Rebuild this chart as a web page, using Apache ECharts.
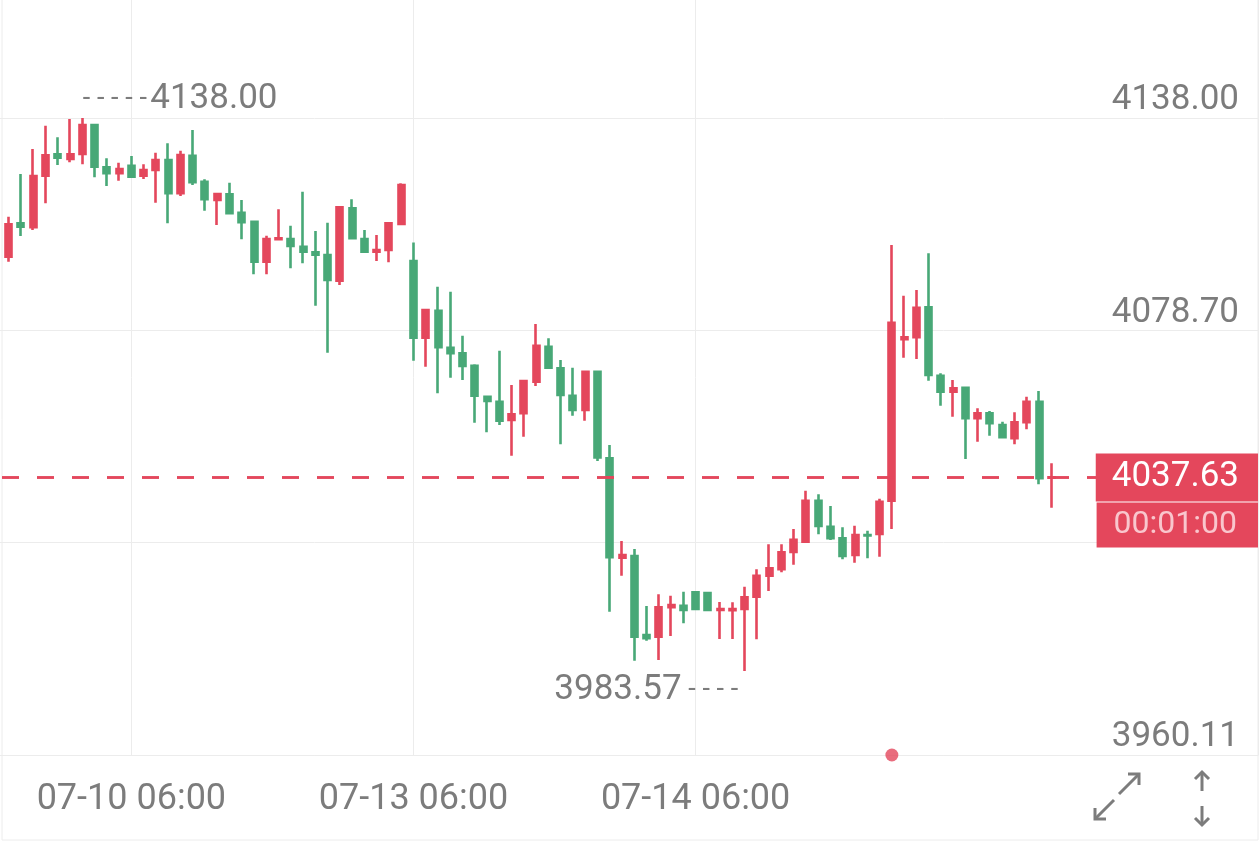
<!DOCTYPE html>
<html>
<head>
<meta charset="utf-8">
<script src="https://cdn.jsdelivr.net/npm/echarts@6/dist/echarts.min.js"></script>
<style>
  html, body { margin: 0; padding: 0; background: #fff; }
  #chart { width: 1260px; height: 844px; }
</style>
</head>
<body>
<div id="chart"></div>
<script>
// 每根K线: [open, close, low, high]
const ohlc = [
  [4099.27, 4108.31, 4097.87, 4110.44],
  [4108.59, 4107.64, 4105.05, 4122.36],
  [4107.48, 4121.80, 4106.72, 4129.34],
  [4121.89, 4127.58, 4114.18, 4135.85],
  [4127.86, 4126.91, 4124.88, 4132.61],
  [4126.55, 4127.86, 4125.63, 4137.72],
  [4127.95, 4136.05, 4125.07, 4138.00],
  [4136.05, 4124.40, 4121.44, 4136.24],
  [4124.23, 4122.56, 4119.01, 4126.75],
  [4122.56, 4123.76, 4120.49, 4125.52],
  [4124.68, 4121.61, 4121.44, 4127.39],
  [4121.89, 4123.48, 4120.97, 4125.07],
  [4123.48, 4126.27, 4114.35, 4128.31],
  [4126.27, 4116.97, 4108.59, 4130.94],
  [4116.97, 4127.67, 4116.22, 4128.87],
  [4127.47, 4120.04, 4119.29, 4134.65],
  [4120.21, 4115.30, 4112.11, 4120.88],
  [4115.10, 4116.78, 4108.12, 4116.97],
  [4116.69, 4111.39, 4111.11, 4119.93],
  [4111.55, 4108.87, 4104.13, 4115.10],
  [4109.04, 4097.87, 4094.35, 4109.32],
  [4097.87, 4104.21, 4094.35, 4105.13],
  [4104.13, 4104.41, 4104.13, 4112.50],
  [4104.21, 4102.26, 4096.03, 4107.92],
  [4102.06, 4100.66, 4097.42, 4117.42],
  [4100.50, 4099.83, 4085.58, 4106.44],
  [4099.74, 4092.76, 4072.46, 4108.76],
  [4092.57, 4113.06, 4091.36, 4113.23],
  [4112.78, 4104.41, 4104.41, 4115.30],
  [4104.21, 4100.66, 4100.38, 4106.72],
  [4100.66, 4101.14, 4098.07, 4105.33],
  [4101.14, 4108.59, 4097.70, 4108.87],
  [4108.40, 4119.29, 4108.40, 4119.77],
  [4098.07, 4076.65, 4070.22, 4103.23],
  [4076.65, 4084.38, 4068.55, 4084.58],
  [4084.19, 4073.97, 4061.12, 4090.89],
  [4073.85, 4072.29, 4065.48, 4089.49],
  [4072.29, 4068.74, 4064.83, 4077.21],
  [4068.83, 4060.45, 4052.91, 4069.22],
  [4060.17, 4058.97, 4050.23, 4060.37],
  [4058.77, 4053.47, 4052.27, 4073.02],
  [4053.66, 4055.26, 4043.69, 4063.44],
  [4055.54, 4064.56, 4049.00, 4064.83],
  [4064.36, 4074.41, 4063.16, 4080.47],
  [4074.13, 4068.27, 4068.10, 4076.48],
  [4068.10, 4060.65, 4046.88, 4070.42],
  [4060.45, 4056.46, 4054.87, 4068.27],
  [4056.46, 4067.15, 4053.47, 4067.26],
  [4067.15, 4043.19, 4042.21, 4067.35],
  [4042.97, 4015.32, 4000.13, 4046.68],
  [4015.21, 4015.96, 4010.18, 4019.87],
  [4015.68, 3993.15, 3986.45, 4017.64],
  [3993.62, 3992.70, 3992.03, 4001.72],
  [3993.15, 4001.36, 3986.64, 4004.99],
  [4001.36, 4002.00, 3993.34, 4004.60],
  [4001.81, 4000.60, 3996.89, 4005.72],
  [4005.55, 4000.88, 4000.74, 4005.63],
  [4005.35, 4000.60, 4000.46, 4005.49],
  [4000.60, 4000.88, 3992.51, 4002.84],
  [4000.55, 4000.88, 3992.51, 4002.75],
  [4000.88, 4004.15, 3983.57, 4007.11],
  [4004.32, 4010.18, 3992.42, 4011.97],
  [4010.18, 4012.25, 4005.91, 4018.95],
  [4011.97, 4016.72, 4011.13, 4018.95],
  [4016.80, 4020.24, 4013.26, 4023.22],
  [4019.68, 4031.13, 4019.68, 4033.92],
  [4031.13, 4024.06, 4021.74, 4032.92],
  [4023.87, 4020.63, 4020.15, 4029.65],
  [4020.63, 4015.68, 4014.76, 4023.70],
  [4015.96, 4021.55, 4013.81, 4024.15],
  [4021.55, 4021.45, 4015.04, 4022.75],
  [4021.83, 4030.85, 4015.49, 4031.69],
  [4031.13, 4080.84, 4023.22, 4102.53],
  [4076.20, 4076.76, 4071.06, 4088.38],
  [4076.76, 4085.02, 4070.70, 4089.97],
  [4085.14, 4066.23, 4064.64, 4100.22],
  [4066.03, 4061.57, 4057.66, 4066.71],
  [4061.57, 4062.52, 4054.59, 4064.83],
  [4062.68, 4054.14, 4042.77, 4062.96],
  [4054.14, 4055.54, 4047.60, 4056.93],
  [4055.54, 4052.74, 4049.28, 4056.18],
  [4052.27, 4048.83, 4048.55, 4053.19],
  [4048.55, 4053.02, 4046.88, 4055.81],
  [4053.02, 4058.77, 4051.07, 4060.17],
  [4058.77, 4037.38, 4035.71, 4061.76],
  [4037.55, 4037.63, 4029.17, 4041.57]
]
// x轴刻度(K线序号)和文字
const xTickIdx = [10, 33, 56]
const xTickLabels = ['07-10 06:00', '07-13 06:00', '07-14 06:00']
// y轴刻度
const yTicks = [3960.11, 4019.40, 4078.70, 4138.00]
const yMin = 3960.11
const yMax = 4170.95
const xMin = -0.71
const xMax = 101.85
const lastPrice = 4037.63
const countdown = '00:01:00'
// 事件点(红点)所在K线
const eventIdx = [72]

const UP = '#e4475c'
const DOWN = '#48a877'
const GRAY = '#7c7c7c'
const GRID = '#ececec'
const FONT = 'Roboto, "Noto Sans", sans-serif'

const candles = ohlc.map((d, i) => [i, d[0], d[1], d[2], d[3]])

let maxIdx = 0
let minIdx = 0
ohlc.forEach((d, i) => {
  if (d[3] > ohlc[maxIdx][3]) maxIdx = i
  if (d[2] < ohlc[minIdx][2]) minIdx = i
})
const maxVal = ohlc[maxIdx][3]
const minVal = ohlc[minIdx][2]

const markRich = {
  d: { fontSize: 27, color: GRAY, fontFamily: FONT, lineHeight: 40, verticalAlign: 'middle' },
  v: { fontSize: 35, color: GRAY, fontFamily: FONT, lineHeight: 40, verticalAlign: 'middle' }
}

const option = {
  animation: false,
  backgroundColor: '#fff',
  grid: { left: 0, right: 2, top: 0, bottom: 89 },
  xAxis: {
    type: 'value',
    min: xMin,
    max: xMax,
    axisLine: { show: true, onZero: false, lineStyle: { color: GRID, width: 1 } },
    axisTick: { show: false, customValues: xTickIdx },
    axisLabel: {
      customValues: xTickIdx,
      margin: 27,
      color: GRAY,
      fontSize: 36,
      fontFamily: FONT,
      formatter: function (v) {
        const k = xTickIdx.indexOf(Math.round(v))
        return k >= 0 ? xTickLabels[k] : ''
      }
    },
    splitLine: { show: true, lineStyle: { color: GRID, width: 1 } }
  },
  yAxis: {
    type: 'value',
    position: 'right',
    min: yMin,
    max: yMax,
    axisLine: { show: true, onZero: false, lineStyle: { color: GRID, width: 1 } },
    axisTick: { show: false, customValues: yTicks },
    axisLabel: {
      customValues: yTicks,
      inside: true,
      margin: 19,
      verticalAlign: 'bottom',
      color: GRAY,
      fontSize: 35,
      fontFamily: FONT,
      formatter: function (v) { return v.toFixed(2) }
    },
    splitLine: { show: true, lineStyle: { color: GRID, width: 1 } }
  },
  series: [
    {
      type: 'candlestick',
      data: candles,
      encode: { x: 0, y: [1, 2, 3, 4] },
      barWidth: 6.5,
      itemStyle: {
        color: UP,
        color0: DOWN,
        borderColor: UP,
        borderColor0: DOWN,
        borderWidth: 2.6
      },
      markPoint: {
        silent: true,
        symbol: 'circle',
        symbolSize: 1,
        itemStyle: { color: 'rgba(0,0,0,0)' },
        data: [
          {
            coord: [maxIdx, maxVal],
            label: {
              show: true,
              position: 'right',
              distance: 0,
              offset: [0, -19],
              formatter: '{d|- - - - -} {v|' + maxVal.toFixed(2) + '}',
              rich: markRich
            }
          },
          {
            coord: [minIdx, minVal],
            label: {
              show: true,
              position: 'left',
              distance: 6,
              offset: [0, 19],
              formatter: '{v|' + minVal.toFixed(2) + '}  {d|- - - -}',
              rich: markRich
            }
          }
        ]
      },
      markLine: {
        silent: true,
        symbol: ['none', 'none'],
        lineStyle: { color: UP, width: 2.5, type: [17, 18], dashOffset: -2 },
        data: [
          {
            yAxis: lastPrice,
            label: {
              show: true,
              position: 'insideEnd',
              distance: [0, 0],
              formatter: lastPrice.toFixed(2),
              color: '#fff',
              fontSize: 35,
              fontFamily: FONT,
              lineHeight: 48,
              backgroundColor: UP,
              padding: [0, 19, 0, 16]
            }
          },
          {
            yAxis: lastPrice,
            label: {
              show: true,
              opacity: 1,
              position: 'insideEndBottom',
              distance: [0, 25],
              formatter: countdown,
              color: '#f9c6cd',
              fontSize: 32,
              fontFamily: FONT,
              lineHeight: 45,
              backgroundColor: UP,
              padding: [0, 21, 0, 17]
            }
          }
        ]
      }
    },
    {
      type: 'scatter',
      data: eventIdx.map(i => [i, yMin]),
      symbolSize: 13,
      clip: false,
      silent: true,
      z: 5,
      itemStyle: { color: UP }
    }
  ],
  graphic: [
    {
      type: 'rect',
      shape: { x: 2, y: -2, width: 1256, height: 842 },
      style: { fill: 'none', stroke: GRID, lineWidth: 1 },
      silent: true
    },
    {
      type: 'group',
      silent: true,
      children: [
        { type: 'line', shape: { x1: 1119, y1: 794, x2: 1139, y2: 774 }, style: { stroke: GRAY, lineWidth: 3 } },
        { type: 'polyline', shape: { points: [[1128, 774], [1139, 774], [1139, 785]] }, style: { stroke: GRAY, lineWidth: 3, fill: 'none' } },
        { type: 'line', shape: { x1: 1114, y1: 800, x2: 1095, y2: 819 }, style: { stroke: GRAY, lineWidth: 3 } },
        { type: 'polyline', shape: { points: [[1095, 808], [1095, 819], [1106, 819]] }, style: { stroke: GRAY, lineWidth: 3, fill: 'none' } },
        { type: 'line', shape: { x1: 1202, y1: 772, x2: 1202, y2: 791 }, style: { stroke: GRAY, lineWidth: 3 } },
        { type: 'polyline', shape: { points: [[1195, 779], [1202, 772], [1209, 779]] }, style: { stroke: GRAY, lineWidth: 3, fill: 'none' } },
        { type: 'line', shape: { x1: 1202, y1: 806, x2: 1202, y2: 825 }, style: { stroke: GRAY, lineWidth: 3 } },
        { type: 'polyline', shape: { points: [[1195, 818], [1202, 825], [1209, 818]] }, style: { stroke: GRAY, lineWidth: 3, fill: 'none' } }
      ]
    }
  ]
}

const myChart = echarts.init(document.getElementById('chart'))
myChart.setOption(option, true)
window.addEventListener('resize', function () {
  myChart.resize()
})
</script>
</body>
</html>
